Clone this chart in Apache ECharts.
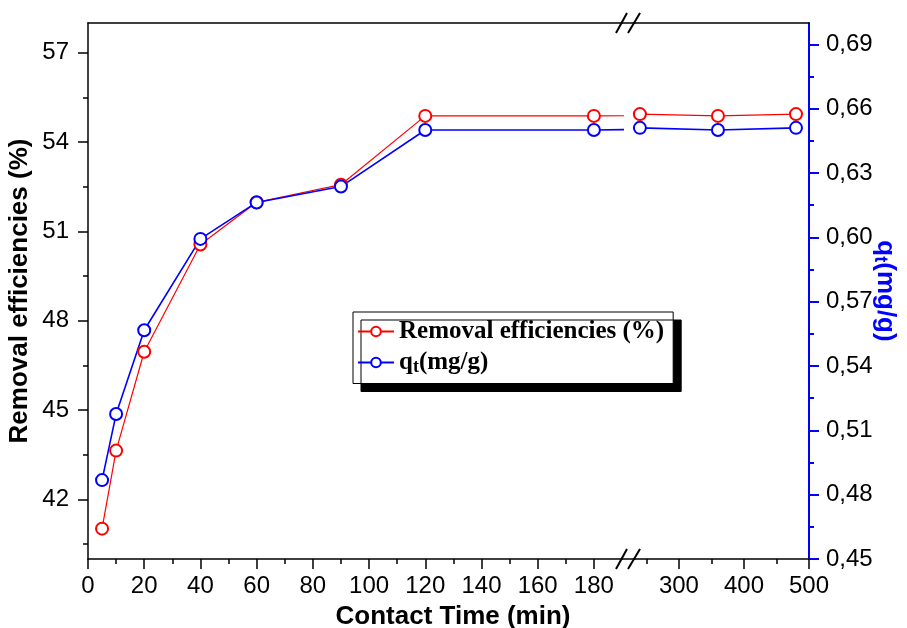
<!DOCTYPE html>
<html>
<head>
<meta charset="utf-8">
<script src="https://cdn.jsdelivr.net/npm/echarts@6/dist/echarts.min.js"></script>
<style>html,body{margin:0;padding:0;background:#fff}#c{width:907px;height:628px}</style>
</head>
<body>
<div id="c"></div>
<script>
// ---- data ----
var times = [5, 10, 20, 40, 60, 90, 120, 180, 240, 360, 480];
var removal = [41.02, 43.64, 46.96, 50.56, 51.98, 52.57, 54.88, 54.88, 54.94, 54.88, 54.94];
var qt = [0.4868, 0.5176, 0.5567, 0.5993, 0.6163, 0.6237, 0.6501, 0.6501, 0.6511, 0.6501, 0.6511];
var xTicksLeft = [0, 20, 40, 60, 80, 100, 120, 140, 160, 180];
var xMinorLeft = [10, 30, 50, 70, 90, 110, 130, 150, 170];
var xTicksRight = [300, 400, 500];
var xMinorRight = [250, 350, 450];
var yLeftTicks = [42, 45, 48, 51, 54, 57];
var yLeftMinor = [40.5, 43.5, 46.5, 49.5, 52.5, 55.5];
var yRightTicks = [0.45, 0.48, 0.51, 0.54, 0.57, 0.60, 0.63, 0.66, 0.69];
var yRightMinor = [0.465, 0.495, 0.525, 0.555, 0.585, 0.615, 0.645, 0.675];
var nameRemoval = 'Removal efficiencies (%)';
var nameQ = 'qt(mg/g)';

function pairs(xs, ys) { return xs.map(function (x, i) { return [x, ys[i]]; }); }

var FONT = 'Liberation Sans, Arial, sans-serif';
var BLUE = '#0000ff', RED = '#ff0000';

function xAx(grid, min, max, labels, major) {
  return {
    type: 'value', gridIndex: grid, min: min, max: max, position: 'bottom',
    axisLine: { show: true, onZero: false, lineStyle: { color: '#000', width: 1.5 } },
    axisTick: { show: true, customValues: major, length: 10, inside: false, lineStyle: { color: '#000', width: 1.5 } },
    axisLabel: { show: true, customValues: labels, margin: 15, fontFamily: FONT, fontSize: 24, color: '#000' },
    splitLine: { show: false }
  };
}

var xAxes = [
  xAx(0, 0, 190, xTicksLeft, xTicksLeft),
  xAx(1, 234, 500, xTicksRight, xTicksRight),
  // top borders
  { type: 'value', gridIndex: 0, min: 0, max: 190, position: 'top', axisLine: { show: true, onZero: false, lineStyle: { color: '#000', width: 1.5 } }, axisTick: { show: false }, axisLabel: { show: false }, splitLine: { show: false } },
  { type: 'value', gridIndex: 1, min: 234, max: 500, position: 'top', axisLine: { show: true, onZero: false, lineStyle: { color: '#000', width: 1.5 } }, axisTick: { show: false }, axisLabel: { show: false }, splitLine: { show: false } },
  // minor ticks
  { type: 'value', gridIndex: 0, min: 0, max: 190, position: 'bottom', axisLine: { show: false, onZero: false }, axisTick: { show: true, customValues: xMinorLeft, length: 5, lineStyle: { color: '#000', width: 1.5 } }, axisLabel: { show: false }, splitLine: { show: false } },
  { type: 'value', gridIndex: 1, min: 234, max: 500, position: 'bottom', axisLine: { show: false, onZero: false }, axisTick: { show: true, customValues: xMinorRight, length: 5, lineStyle: { color: '#000', width: 1.5 } }, axisLabel: { show: false }, splitLine: { show: false } }
];

var yAxes = [
  { // 0 grid1 left main
    type: 'value', gridIndex: 0, min: 40, max: 58, position: 'left',
    name: 'Removal efficiencies (%)', nameLocation: 'middle', nameGap: 55, nameMoveOverlap: false,
    nameTextStyle: { fontFamily: FONT, fontSize: 26, fontWeight: 'bold', color: '#000' },
    axisLine: { show: true, onZero: false, lineStyle: { color: '#000', width: 1.5 } },
    axisTick: { show: true, customValues: yLeftTicks, length: 10, lineStyle: { color: '#000', width: 1.5 } },
    axisLabel: { customValues: yLeftTicks, margin: 19, fontFamily: FONT, fontSize: 24, color: '#000' },
    splitLine: { show: false }
  },
  { // 1 grid1 right hidden
    type: 'value', gridIndex: 0, min: 0.45, max: 0.70, position: 'right', show: false
  },
  { // 2 grid2 left hidden
    type: 'value', gridIndex: 1, min: 40, max: 58, position: 'left', show: false
  },
  { // 3 grid2 right main
    type: 'value', gridIndex: 1, min: 0.45, max: 0.70, position: 'right',
    name: '{b|q}{s|t}{b|(mg/g)}', nameLocation: 'middle', nameGap: 62, nameRotate: -90, nameMoveOverlap: false,
    nameTextStyle: {
      color: BLUE,
      rich: {
        b: { fontFamily: FONT, fontSize: 26, fontWeight: 'bold', color: BLUE },
        s: { fontFamily: FONT, fontSize: 18, fontWeight: 'bold', color: BLUE, padding: [10, 0, 0, 0] }
      }
    },
    axisLine: { show: true, onZero: false, lineStyle: { color: BLUE, width: 2 } },
    axisTick: { show: true, customValues: yRightTicks, length: 10, lineStyle: { color: BLUE, width: 2 } },
    axisLabel: {
      customValues: yRightTicks, margin: 17, fontFamily: FONT, fontSize: 24, color: '#000',
      formatter: function (v) { return v.toFixed(2).replace('.', ','); }
    },
    splitLine: { show: false }
  },
  { // 4 grid1 left minor ticks
    type: 'value', gridIndex: 0, min: 40, max: 58, position: 'left',
    axisLine: { show: false, onZero: false },
    axisTick: { show: true, customValues: yLeftMinor, length: 5, lineStyle: { color: '#000', width: 1.5 } },
    axisLabel: { show: false }, splitLine: { show: false }
  },
  { // 5 grid2 right minor ticks
    type: 'value', gridIndex: 1, min: 0.45, max: 0.70, position: 'right',
    axisLine: { show: false, onZero: false },
    axisTick: { show: true, customValues: yRightMinor, length: 5, lineStyle: { color: BLUE, width: 2 } },
    axisLabel: { show: false }, splitLine: { show: false }
  }
];

function lineSeries(name, data, xi, yi, color, width) {
  return {
    name: name, type: 'line', xAxisIndex: xi, yAxisIndex: yi, data: data,
    symbol: 'emptyCircle', symbolSize: 12, clip: true, animation: false,
    lineStyle: { color: color, width: width },
    itemStyle: { color: color, borderColor: color, borderWidth: 1.3 }
  };
}

var serif = 'Liberation Serif, Times New Roman, serif';
var option = {
  backgroundColor: '#fff',
  animation: false,
  grid: [
    { left: 88, top: 23, width: 534, height: 536, outerBoundsMode: 'none' },
    { left: 636, top: 23, width: 173, height: 536, outerBoundsMode: 'none' }
  ],
  title: {
    text: 'Contact Time (min)', left: 448, top: 599, textAlign: 'center',
    textStyle: { fontFamily: FONT, fontSize: 26, fontWeight: 'bold', color: '#000' }
  },
  legend: {
    orient: 'vertical', left: 353, top: 312,
    data: [nameRemoval, nameQ],
    itemWidth: 36, itemHeight: 12, itemGap: 6,
    padding: [7, 9, 7, 4],
    backgroundColor: '#fff', borderColor: '#000', borderWidth: 1,
    shadowColor: '#000', shadowBlur: 0, shadowOffsetX: 8, shadowOffsetY: 8,
    formatter: function (n) { return n === nameQ ? '{b|q}{s|t}{b|(mg/g)}' : '{b|' + n + '}'; },
    textStyle: {
      fontFamily: serif, fontSize: 25, fontWeight: 'bold', color: '#000',
      rich: {
        b: { fontFamily: serif, fontSize: 25, fontWeight: 'bold', color: '#000' },
        s: { fontFamily: serif, fontSize: 18, fontWeight: 'bold', color: '#000', padding: [10, 0, 0, 0] }
      }
    }
  },
  xAxis: xAxes,
  yAxis: yAxes,
  series: [
    lineSeries(nameRemoval, pairs(times, removal), 0, 0, RED, 1.2),
    lineSeries(nameQ, pairs(times, qt), 0, 1, BLUE, 1.6),
    lineSeries(nameRemoval, pairs(times, removal), 1, 2, RED, 1.2),
    lineSeries(nameQ, pairs(times, qt), 1, 3, BLUE, 1.6)
  ],
  graphic: [
    { type: 'line', shape: { x1: 622, y1: 559, x2: 636, y2: 559 }, style: { stroke: '#000', lineWidth: 1.5 } },
    { type: 'line', shape: { x1: 622, y1: 23, x2: 636, y2: 23 }, style: { stroke: '#000', lineWidth: 1.5 } },
    { type: 'line', shape: { x1: 616, y1: 569, x2: 627, y2: 549 }, style: { stroke: '#000', lineWidth: 2 } },
    { type: 'line', shape: { x1: 628, y1: 569, x2: 640, y2: 549 }, style: { stroke: '#000', lineWidth: 2 } },
    { type: 'line', shape: { x1: 616, y1: 33, x2: 627, y2: 13 }, style: { stroke: '#000', lineWidth: 2 } },
    { type: 'line', shape: { x1: 628, y1: 33, x2: 640, y2: 13 }, style: { stroke: '#000', lineWidth: 2 } }
  ]
};

var chart = echarts.init(document.getElementById('c'), null, { renderer: 'canvas' });
chart.setOption(option);
</script>
</body>
</html>
